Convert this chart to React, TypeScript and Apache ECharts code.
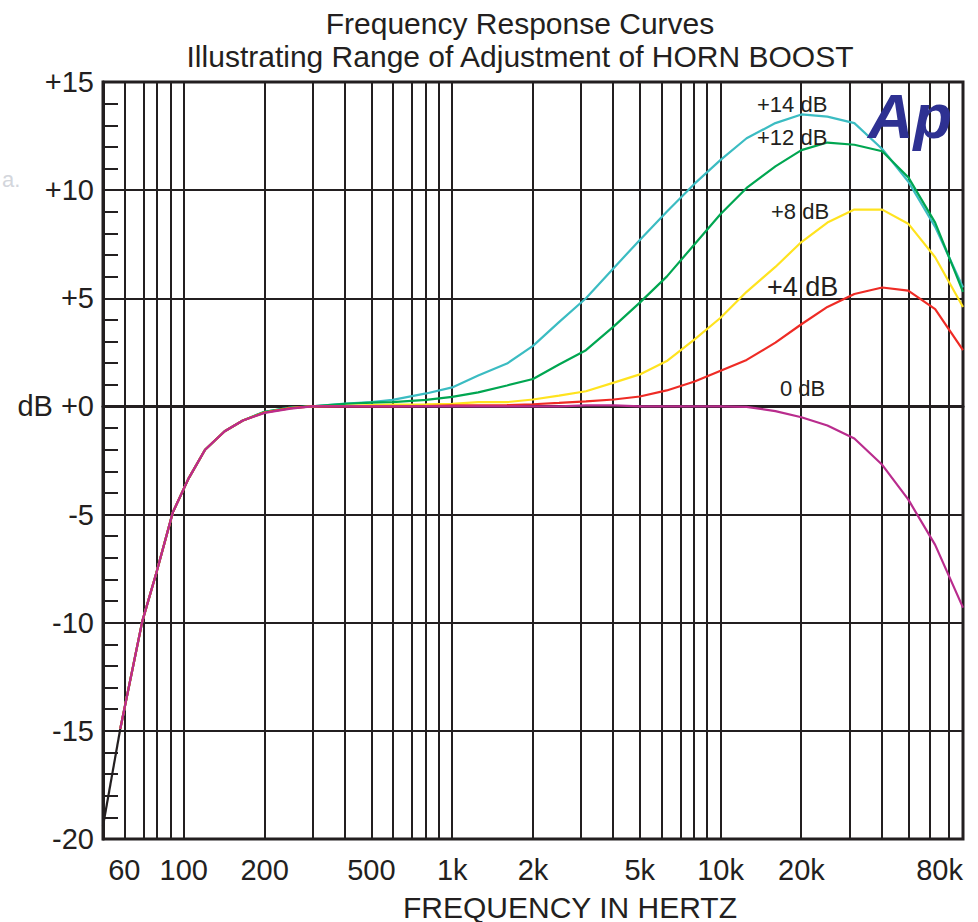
import React, { useEffect, useRef } from "react";
import * as echarts from "echarts";

const FONT = "'Liberation Sans', Arial, Helvetica, sans-serif";
const INK = "#231f20";

// Frequencies (Hz) of the sampled points on the curves
const FREQS = [58, 70, 79, 91, 104, 120, 142, 166, 200, 250, 300, 400, 500, 600, 800, 1000, 1250, 1600, 2000, 2500, 3150, 4000, 5000, 6300, 8000, 10000, 12500, 16000, 20000, 25000, 31500, 40000, 50000, 63000, 80000];

// Response (dB) per HORN BOOST setting
const DB_14 = [-14.9, -9.95, -7.7, -4.9, -3.35, -2.0, -1.15, -0.65, -0.25, -0.05, 0, 0.13, 0.2, 0.3, 0.6, 0.88, 1.43, 1.98, 2.8, 3.9, 5.0, 6.4, 7.7, 9.0, 10.3, 11.4, 12.4, 13.1, 13.5, 13.4, 13.1, 11.9, 10.4, 8.3, 5.5];
const DB_12 = [-14.9, -9.95, -7.7, -4.9, -3.35, -2.0, -1.15, -0.65, -0.25, -0.05, 0, 0.12, 0.18, 0.2, 0.3, 0.44, 0.65, 0.97, 1.27, 1.94, 2.6, 3.7, 4.8, 6.0, 7.5, 8.9, 10.1, 11.1, 11.85, 12.2, 12.1, 11.8, 10.6, 8.5, 5.3];
const DB_8 = [-14.9, -9.95, -7.7, -4.9, -3.35, -2.0, -1.15, -0.65, -0.28, -0.08, 0, 0.03, 0.06, 0.08, 0.1, 0.12, 0.2, 0.2, 0.32, 0.5, 0.7, 1.1, 1.48, 2.1, 3.1, 4.1, 5.3, 6.45, 7.6, 8.5, 9.1, 9.1, 8.45, 6.9, 4.6];
const DB_4 = [-14.9, -9.95, -7.7, -4.9, -3.35, -2.0, -1.15, -0.65, -0.28, -0.08, 0, 0, 0, 0, 0.02, 0.05, 0.05, 0.06, 0.1, 0.16, 0.23, 0.32, 0.46, 0.74, 1.15, 1.65, 2.15, 2.95, 3.8, 4.6, 5.2, 5.5, 5.35, 4.5, 2.6];
const DB_0 = [-14.9, -9.95, -7.7, -4.9, -3.35, -2.0, -1.15, -0.65, -0.3, -0.1, 0, 0, 0, 0, 0, 0, 0, 0, 0, 0, 0.05, 0.05, 0, 0, 0, 0, -0.02, -0.22, -0.5, -0.88, -1.48, -2.7, -4.3, -6.4, -9.3];

// Lowest segment (black) below the coloured curves
const LOW_FREQS = [50, 58];
const LOW_DB = [-19.4, -14.9];

// Axis ranges
const X_MIN_HZ = 50;
const X_MAX_HZ = 80000;
const Y_MIN = -20;
const Y_MAX = 15;
const Y_STEP = 5;

// Vertical grid lines (Hz)
const GRID_FREQS = [60, 70, 80, 90, 100, 200, 300, 400, 500, 600, 700, 800, 900, 1000, 2000, 3000, 4000, 5000, 6000, 7000, 8000, 9000, 10000, 20000, 30000, 40000, 50000, 60000, 70000];

// X tick labels
const X_LABEL_FREQS = [60, 100, 200, 500, 1000, 2000, 5000, 10000, 20000, 80000];
const X_LABEL_TEXT = ["60", "100", "200", "500", "1k", "2k", "5k", "10k", "20k", "80k"];

const SERIES_NAMES = ["+14 dB", "+12 dB", "+8 dB", "+4 dB", "0 dB"];
const SERIES_DATA = [DB_14, DB_12, DB_8, DB_4, DB_0];
const SERIES_COLORS = ["#3bbcc2", "#00a651", "#ffe31f", "#ee2b25", "#b92c8d"];

const lg = (f: number) => Math.log10(f);

export default function App() {
  const ref = useRef<HTMLDivElement>(null);

  useEffect(() => {
    if (!ref.current) return;
    const chart = echarts.init(ref.current, null, { renderer: "svg" });

    const curveSeries = SERIES_NAMES.map((name, i) => ({
      name,
      type: "line",
      z: 10,
      symbol: "none",
      smooth: false,
      lineStyle: { color: SERIES_COLORS[i], width: 2.2 },
      data: FREQS.map((f, j) => [lg(f), SERIES_DATA[i][j]]),
    }));

    const txt = (text: string, x: number, y: number, font: string, align: string, fill = INK, z = 20) => ({
      type: "text",
      x,
      y,
      z,
      style: { text, font, fill, align, verticalAlign: "middle", textAlign: align, textVerticalAlign: "middle" },
    });

    const option: any = {
      animation: false,
      backgroundColor: "#ffffff",
      grid: {
        left: 103,
        right: 15,
        top: 82,
        bottom: 83,
        show: true,
        borderColor: INK,
        borderWidth: 3,
        backgroundColor: "transparent",
      },
      xAxis: {
        type: "value",
        min: lg(X_MIN_HZ),
        max: lg(X_MAX_HZ),
        axisLine: { show: true, lineStyle: { color: INK, width: 3 } },
        axisTick: { show: false },
        splitLine: { show: false },
        axisLabel: {
          customValues: X_LABEL_FREQS.map(lg),
          showMinLabel: true,
          showMaxLabel: true,
          alignMaxLabel: "right",
          margin: 16,
          fontSize: 29,
          fontFamily: FONT,
          color: INK,
          formatter: (v: number) => {
            const k = X_LABEL_FREQS.findIndex((f) => Math.abs(lg(f) - v) < 1e-6);
            return k >= 0 ? X_LABEL_TEXT[k] : "";
          },
        },
      },
      yAxis: {
        type: "value",
        min: Y_MIN,
        max: Y_MAX,
        interval: Y_STEP,
        axisLine: { show: true, lineStyle: { color: INK, width: 3 } },
        axisTick: { show: true, inside: true, length: 15, lineStyle: { color: INK, width: 2 } },
        minorTick: { show: true, splitNumber: 5, length: 15, lineStyle: { color: INK, width: 2 } },
        splitLine: { show: true, lineStyle: { color: INK, width: 2 } },
        axisLabel: {
          margin: 9,
          fontSize: 29,
          fontFamily: FONT,
          color: INK,
          formatter: (v: number) => (v > 0 ? "+" + v : v === 0 ? "dB +0" : String(v)),
        },
      },
      series: [
        {
          name: "grid",
          type: "line",
          data: [],
          silent: true,
          markLine: {
            silent: true,
            symbol: ["none", "none"],
            label: { show: false },
            lineStyle: { color: INK, width: 2, type: "solid" },
            data: GRID_FREQS.map((f) => ({ xAxis: lg(f) })),
          },
        },
        {
          name: "low",
          type: "line",
          z: 10,
          symbol: "none",
          lineStyle: { color: INK, width: 2.2 },
          data: LOW_FREQS.map((f, j) => [lg(f), LOW_DB[j]]),
        },
        ...curveSeries,
      ],
      graphic: [
        txt("Frequency Response Curves", 520, 23, `30px ${FONT}`, "center"),
        txt("Illustrating Range of Adjustment of HORN BOOST", 520, 56, `30px ${FONT}`, "center"),
        txt("FREQUENCY IN HERTZ", 570, 907, `30px ${FONT}`, "center"),
        txt("+14 dB", 757, 104, `22px ${FONT}`, "left"),
        txt("+12 dB", 757, 137, `22px ${FONT}`, "left"),
        txt("+8 dB", 771, 211, `22px ${FONT}`, "left"),
        txt("+4 dB", 767, 287, `27px ${FONT}`, "left"),
        txt("0 dB", 780, 388, `22px ${FONT}`, "left"),
        txt("Ap", 868, 116, `italic 900 63px ${FONT}`, "left", "#2e3192"),
        txt("a.", 2, 179, `22px ${FONT}`, "left", "#d3d6dc", 1),
      ],
    };

    chart.setOption(option);
    return () => chart.dispose();
  }, []);

  return (
    <div
      ref={ref}
      style={{ position: "absolute", left: 0, top: 0, width: 978, height: 922, background: "#fff" }}
    />
  );
}
